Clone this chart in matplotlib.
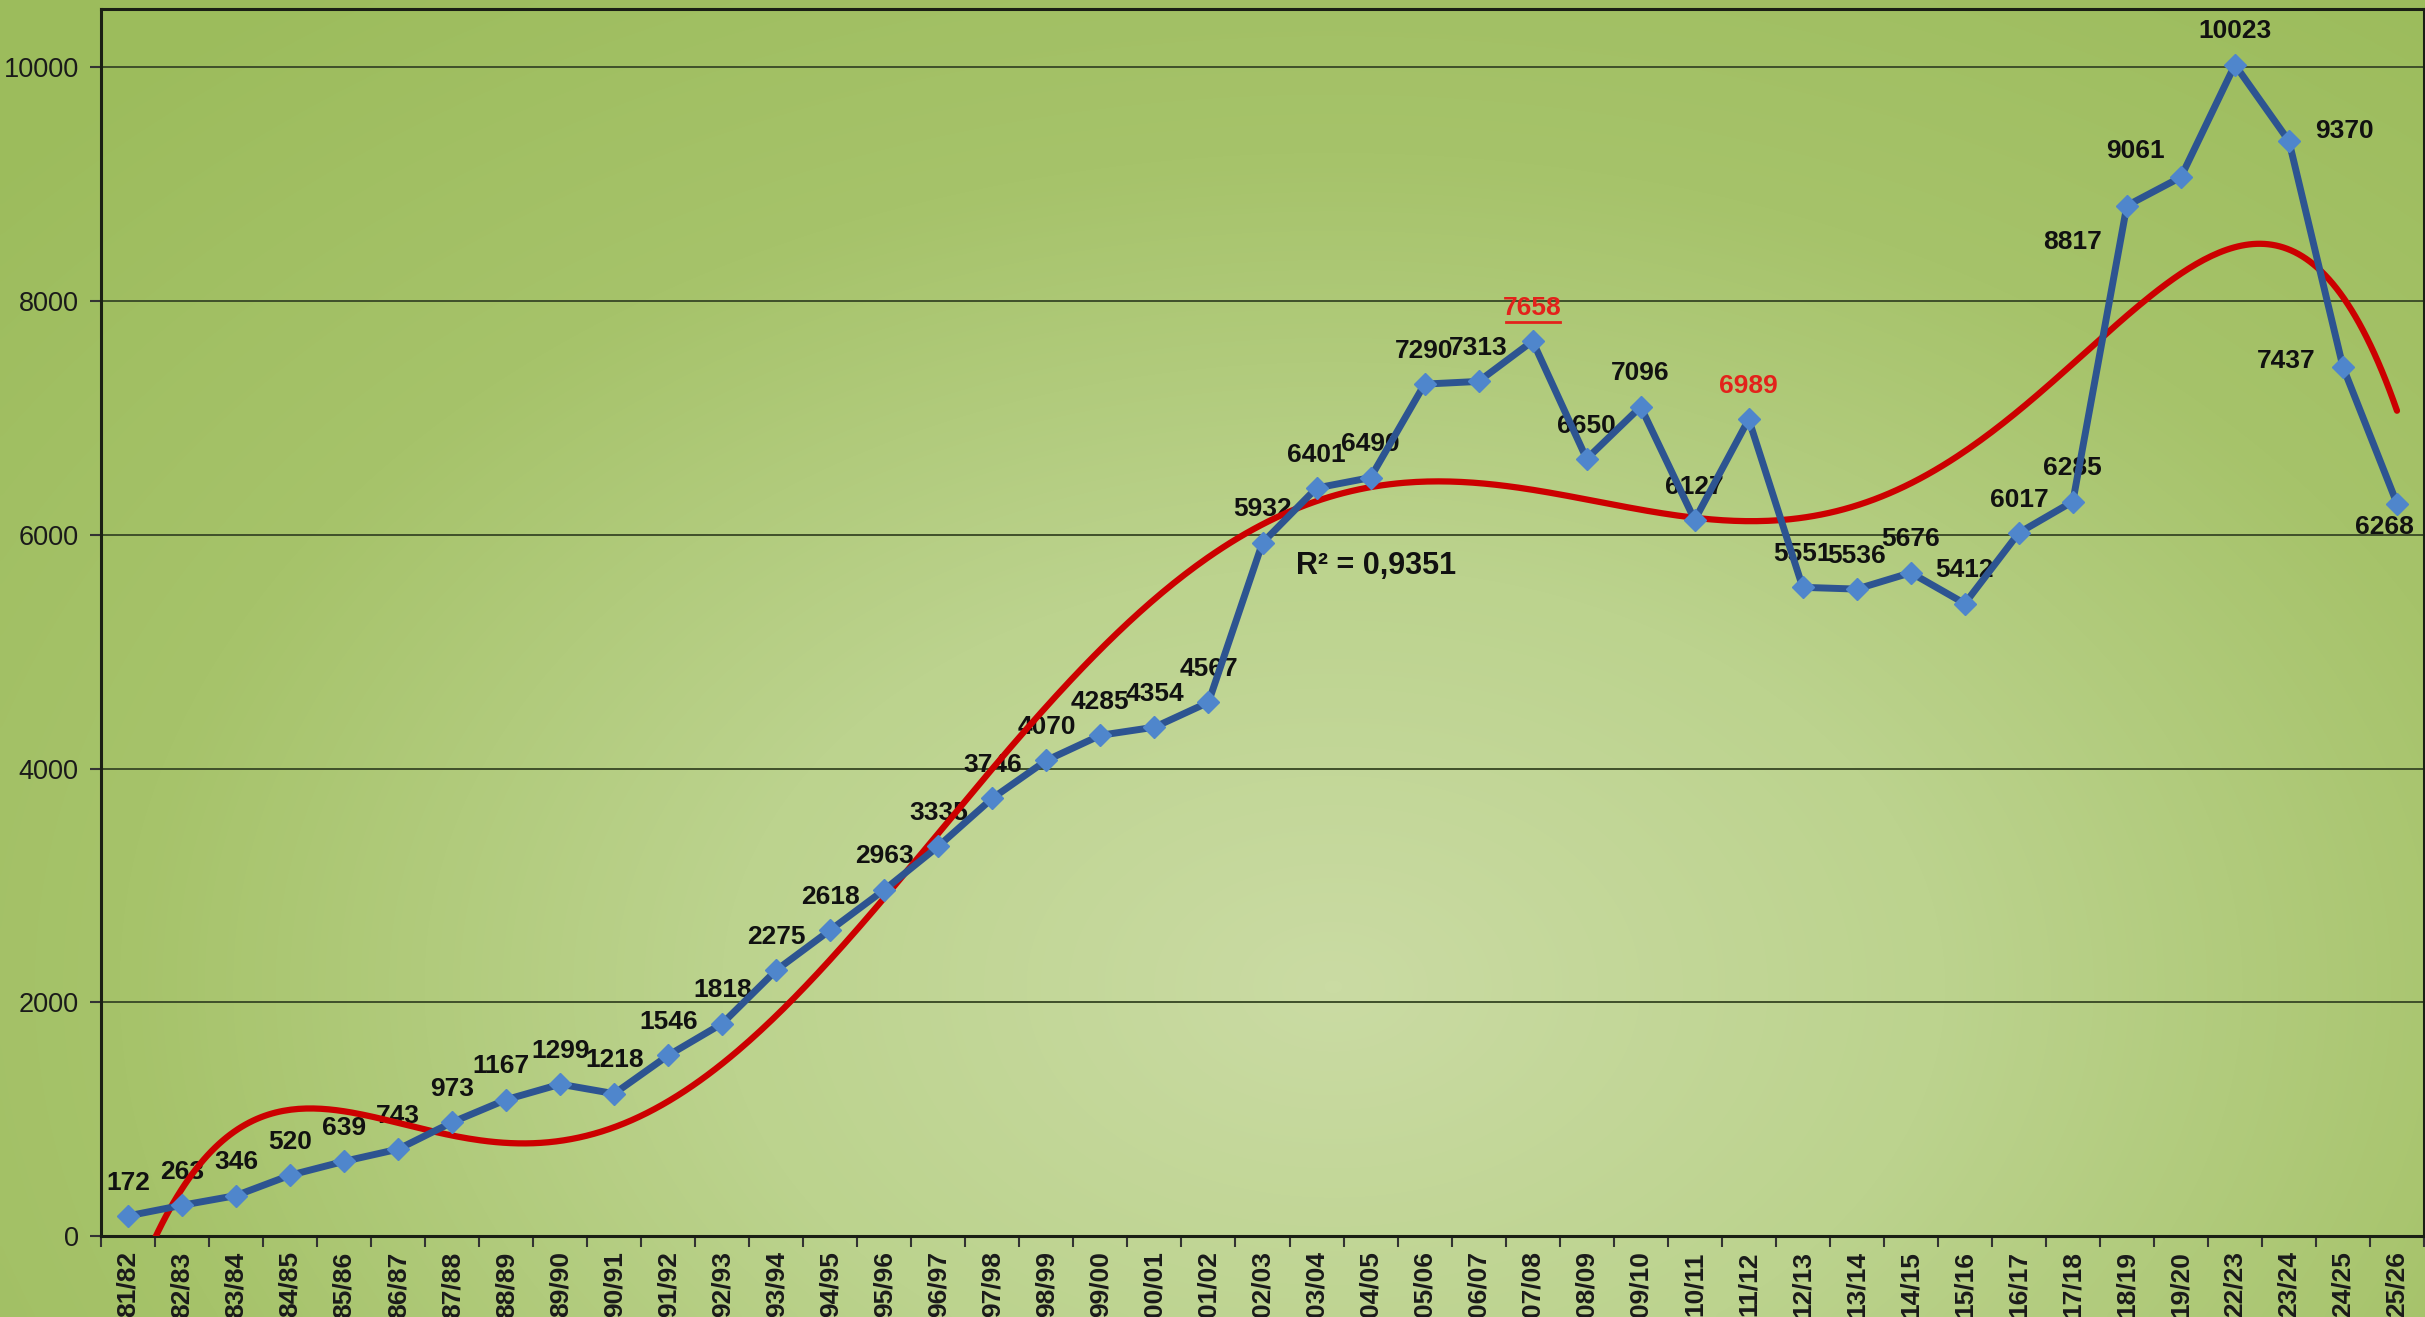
import numpy as np
import matplotlib
matplotlib.use("Agg")
import matplotlib.pyplot as plt
from matplotlib.colors import LinearSegmentedColormap
from matplotlib.transforms import offset_copy

# Academic years and their counts (20/21 and 21/22 are absent from the series)
years = ["81/82", "82/83", "83/84", "84/85", "85/86", "86/87", "87/88", "88/89",
         "89/90", "90/91", "91/92", "92/93", "93/94", "94/95", "95/96", "96/97",
         "97/98", "98/99", "99/00", "00/01", "01/02", "02/03", "03/04", "04/05",
         "05/06", "06/07", "07/08", "08/09", "09/10", "10/11", "11/12", "12/13",
         "13/14", "14/15", "15/16", "16/17", "17/18", "18/19", "19/20", "22/23",
         "23/24", "24/25", "25/26"]
counts = [172, 263, 346, 520, 639, 743, 973, 1167, 1299, 1218, 1546, 1818, 2275,
          2618, 2963, 3335, 3746, 4070, 4285, 4354, 4567, 5932, 6401, 6490, 7290,
          7313, 7658, 6650, 7096, 6127, 6989, 5551, 5536, 5676, 5412, 6017, 6285,
          8817, 9061, 10023, 9370, 7437, 6268]
highlight_red = ["07/08", "11/12"]
underlined = ["07/08"]
r2_text = "R² = 0,9351"
yticks = [0, 2000, 4000, 6000, 8000, 10000]

plt.rcParams["font.family"] = ["Liberation Sans", "DejaVu Sans"]

W, H = 2425, 1317
fig = plt.figure(figsize=(W / 100, H / 100), dpi=100)

# Radial green gradient background over the whole figure
bg = fig.add_axes([0, 0, 1, 1], zorder=-10)
gx, gy = np.meshgrid(np.linspace(0, 1, 600), np.linspace(0, 1, 330))
cx, cy = 0.55, 0.25
d = np.sqrt(((gx - cx) / 0.75) ** 2 + ((gy - cy) / 0.95) ** 2)
d = np.clip(d, 0, 1)
cmap = LinearSegmentedColormap.from_list("g", ["#cadba3", "#bcd38e", "#a6c36a", "#9cbc5c"])
bg.imshow(d, cmap=cmap, origin="lower", extent=[0, 1, 0, 1], aspect="auto",
          interpolation="bicubic")
bg.set_axis_off()

ax = fig.add_axes([101 / W, 1 - 1236 / H, (2424 - 101) / W, (1236 - 9) / H])
ax.patch.set_alpha(0)

x = np.arange(1, len(counts) + 1)
y = np.array(counts, dtype=float)

# Sixth-order polynomial trend
coef = np.polyfit(x, y, 6)
xs = np.linspace(1, len(counts), 600)
ys = np.polyval(coef, xs)

ax.plot(xs, ys, color="#cc0000", lw=4.5, zorder=4, solid_capstyle="round")
ax.plot(x, y, color="#2d5491", lw=5, zorder=5, marker="D", markersize=11,
        markerfacecolor="#4f86cc", markeredgecolor="#4f86cc")

ax.set_xlim(0.5, len(counts) + 0.5)
ax.set_ylim(0, 10500)

ax.set_yticks(yticks)
ax.set_yticklabels([str(v) for v in yticks], fontsize=19.5, color="#1a1a1a")
ax.yaxis.grid(True, color="#3f4f2a", lw=1.4)
ax.set_axisbelow(True)

ax.set_xticks(x)
ax.set_xticklabels(years, rotation=90, fontsize=19, fontweight="bold", color="#1a1a1a")
ax.set_xticks(np.arange(0.5, len(counts) + 1), minor=True)
ax.tick_params(axis="x", which="major", length=0, pad=11)
ax.tick_params(axis="x", which="minor", length=8, width=1.5, color="#333333")
ax.tick_params(axis="y", length=8, width=1.5, color="#333333", pad=8)

for s in ax.spines.values():
    s.set_color("#1a1f14")
    s.set_linewidth(2.2)

# Data labels: above by default, a few placed to the side or below
offsets = {7: (-4, 24), 37: (-39, -26), 38: (-33, 19), 40: (40, 7), 41: (-41, 4),
           42: (-9, -17)}
for i, (yr, v) in enumerate(zip(years, counts)):
    dx, dy = offsets.get(i, (0, 24))
    red = yr in highlight_red
    col = "#e3221b" if red else "#111111"
    ax.annotate(str(v), (x[i], v), xytext=(dx, dy), textcoords="offset points",
                ha="center", va="center", fontsize=19, fontweight="bold",
                color=col, zorder=3, annotation_clip=False)
    if yr in underlined:
        tr = offset_copy(ax.transData, fig=fig, x=dx, y=dy - 10, units="points")
        half = 0.5
        ax.plot([x[i] - half, x[i] + half], [v, v], transform=tr, color=col,
                lw=2, zorder=3, clip_on=False)

ax.text((1296 - 101) / (2424 - 101), (1236 - 566) / (1236 - 9), r2_text,
        transform=ax.transAxes, ha="left", va="center", fontsize=22,
        fontweight="bold", color="#111111", zorder=6)

fig.savefig("out.png", dpi=100)
